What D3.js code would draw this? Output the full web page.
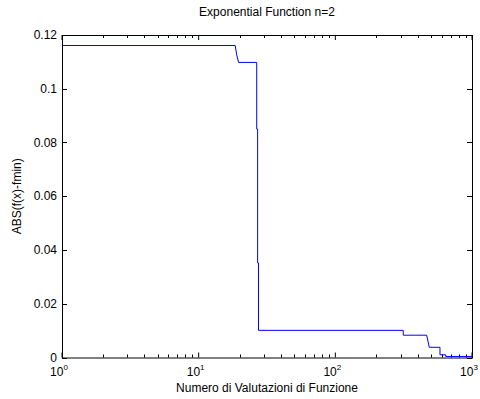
<!DOCTYPE html>
<html>
<head>
<meta charset="utf-8">
<script src="https://cdn.jsdelivr.net/npm/d3@7"></script>
<style>
  body { margin: 0; background: #fff; }
  text { font-family: "Liberation Sans", Arial, sans-serif; font-size: 12px; fill: #000; }
</style>
</head>
<body>
<div id="chart"></div>
<script>
// step trace of the error vs number of function evaluations
const evals  = [1, 18.5, 19.0, 19.6, 26.6, 26.6, 27.0, 27.0, 27.4, 27.4, 314, 314, 466, 487, 583, 583, 642, 642, 1000];
const errors = [0.1161, 0.1161, 0.1125, 0.1098, 0.1098, 0.085, 0.085, 0.0352, 0.0352, 0.0101, 0.0101, 0.0083, 0.0083, 0.0038, 0.0038, 0.0010, 0.0010, 0.0004, 0.0004];

const xTicks = [1, 10, 100, 1000];
const yTicks = [0, 0.02, 0.04, 0.06, 0.08, 0.1, 0.12];

const width = 480, height = 399;
const margin = {left: 62, right: 8, top: 35, bottom: 41.5};

let svg = d3.select("#chart").append("svg").attr("width", width).attr("height", height);

let x = d3.scaleLog().domain([1, 1000]).range([margin.left, width - margin.right]);
let y = d3.scaleLinear().domain([0, 0.12]).range([height - margin.bottom, margin.top]);

// minor ticks for the log axis
let minor = [];
for (let d = 1; d < 1000; d *= 10) {
    for (let k = 2; k <= 9; k++) minor.push(d * k);
}

let g = svg.append("g");

// bottom / top ticks (pointing inward)
let x0 = x.range()[0], x1 = x.range()[1], y0 = y.range()[0], y1 = y.range()[1];
g.selectAll(".xmaj").data(xTicks).enter().append("line")
    .attr("x1", d => x(d)).attr("x2", d => x(d)).attr("y1", y0).attr("y2", y0 - 5)
    .attr("stroke", "#000");
g.selectAll(".xmajt").data(xTicks).enter().append("line")
    .attr("x1", d => x(d)).attr("x2", d => x(d)).attr("y1", y1).attr("y2", y1 + 5)
    .attr("stroke", "#000");
g.selectAll(".xmin").data(minor).enter().append("line")
    .attr("x1", d => Math.round(x(d)) + 0.5).attr("x2", d => Math.round(x(d)) + 0.5).attr("y1", y0).attr("y2", y0 - 3)
    .attr("stroke", "#000");
g.selectAll(".xmint").data(minor).enter().append("line")
    .attr("x1", d => Math.round(x(d)) + 0.5).attr("x2", d => Math.round(x(d)) + 0.5).attr("y1", y1).attr("y2", y1 + 3)
    .attr("stroke", "#000");

// left / right ticks
g.selectAll(".yl").data(yTicks).enter().append("line")
    .attr("x1", x0).attr("x2", x0 + 5).attr("y1", d => Math.round(y(d)) + 0.5).attr("y2", d => Math.round(y(d)) + 0.5)
    .attr("stroke", "#000");
g.selectAll(".yr").data(yTicks).enter().append("line")
    .attr("x1", x1).attr("x2", x1 - 5).attr("y1", d => Math.round(y(d)) + 0.5).attr("y2", d => Math.round(y(d)) + 0.5)
    .attr("stroke", "#000");

// tick labels
g.selectAll(".ylab").data(yTicks).enter().append("text")
    .attr("x", x0 - 5).attr("y", d => y(d) + 4)
    .attr("text-anchor", "end")
    .text(d => d3.format("~g")(d));

let xl = g.selectAll(".xlab").data(xTicks).enter().append("text")
    .attr("x", d => x(d) - 3).attr("y", y0 + 18)
    .attr("text-anchor", "middle");
xl.append("tspan").text("10");
xl.append("tspan").attr("dy", -6).attr("font-size", "8px").text(d => Math.round(Math.log10(d)));

// data line
let line = d3.line().x((d, i) => x(evals[i])).y((d, i) => y(errors[i]));
svg.append("path").datum(errors)
    .attr("d", line)
    .attr("fill", "none")
    .attr("stroke", "#0000ff")
    .attr("stroke-width", 1);

// frame
svg.append("rect")
    .attr("x", x0 + 0.5).attr("y", y1 + 0.5)
    .attr("width", x1 - x0).attr("height", y0 - y1)
    .attr("fill", "none").attr("stroke", "#000");

// titles
svg.append("text").attr("x", (x0 + x1) / 2).attr("y", 16).attr("text-anchor", "middle")
    .text("Exponential Function n=2");
svg.append("text").attr("x", (x0 + x1) / 2).attr("y", 392).attr("text-anchor", "middle")
    .text("Numero di Valutazioni di Funzione");
svg.append("text").attr("transform", "translate(21," + ((y0 + y1) / 2) + ") rotate(-90)")
    .attr("text-anchor", "middle")
    .text("ABS(f(x)-fmin)");
</script>
</body>
</html>
